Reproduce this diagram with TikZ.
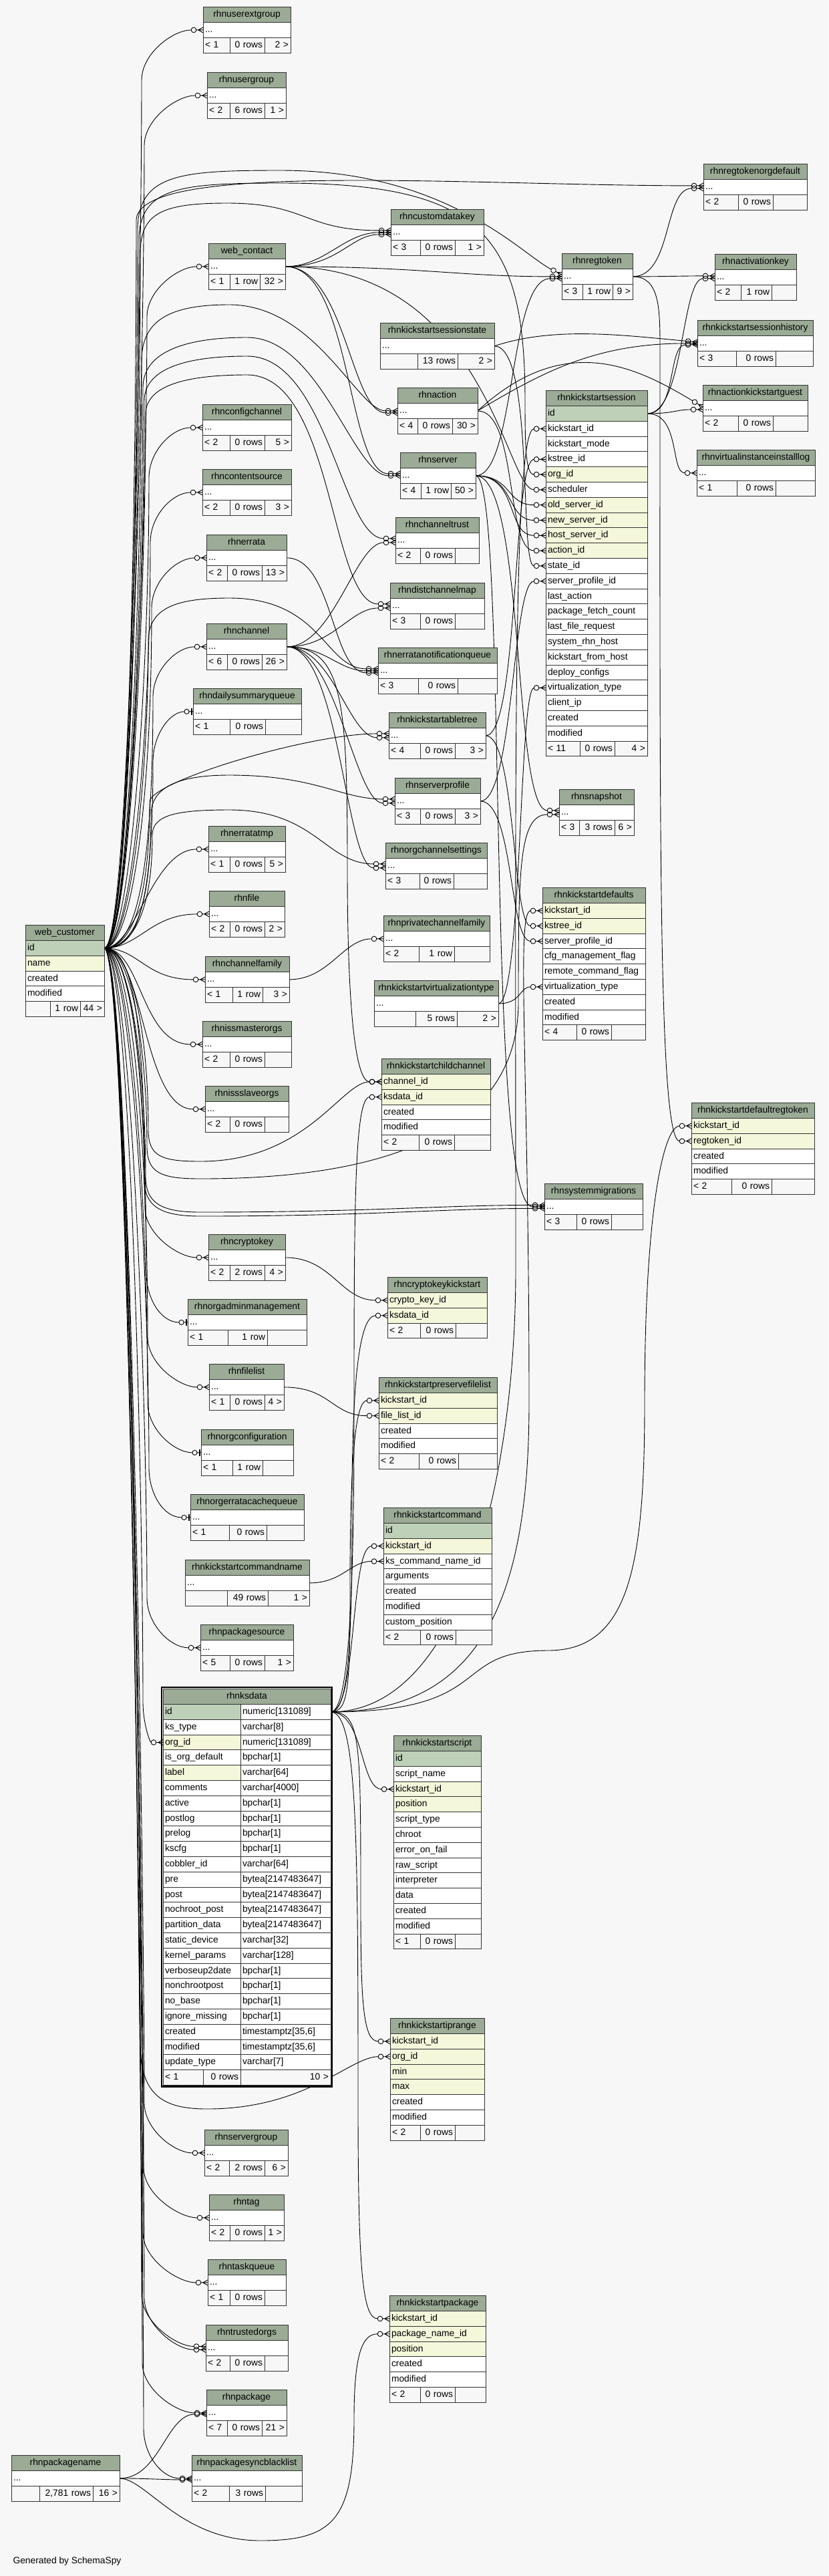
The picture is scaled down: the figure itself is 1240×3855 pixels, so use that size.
\documentclass[tikz,border=0pt]{standalone}
\usepackage{fontspec}
\setmainfont{Liberation Sans}
\usepackage{tikz}
\usetikzlibrary{calc,positioning,arrows.meta}
\definecolor{bgc}{HTML}{F7F7F7}
\definecolor{hdrc}{HTML}{9BAB96}
\definecolor{pkc}{HTML}{BED1B8}
\definecolor{idxc}{HTML}{F4F7DA}
\pgfdeclarelayer{edges}
\pgfsetlayers{edges,main}

% crow's foot with open circle (zero or many)
\pgfdeclarearrow{
  name = Crow,
  setup code = {
    \pgfarrowssettipend{0pt}
    \pgfarrowssetlineend{-17.6pt}
    \pgfarrowssetbackend{-18.2pt}
    \pgfarrowssetvisualbackend{-18.2pt}
    \pgfarrowsupperhullpoint{0pt}{4.2pt}
    \pgfarrowsupperhullpoint{-18.2pt}{4pt}
  },
  drawing code = {
    \pgfpathcircle{\pgfqpoint{-14pt}{0pt}}{3.8pt}
    \pgfpathmoveto{\pgfqpoint{-10.2pt}{0pt}}
    \pgfpathlineto{\pgfqpoint{0pt}{0pt}}
    \pgfpathmoveto{\pgfqpoint{0pt}{4pt}}
    \pgfpathlineto{\pgfqpoint{-7.2pt}{0pt}}
    \pgfpathlineto{\pgfqpoint{0pt}{-4pt}}
    \pgfusepathqstroke
  }
}
% open circle and bar (zero or one)
\pgfdeclarearrow{
  name = CrowOne,
  setup code = {
    \pgfarrowssettipend{0pt}
    \pgfarrowssetlineend{-13pt}
    \pgfarrowssetbackend{-13.6pt}
    \pgfarrowssetvisualbackend{-13.6pt}
    \pgfarrowsupperhullpoint{0pt}{4.6pt}
    \pgfarrowsupperhullpoint{-13.6pt}{3.8pt}
  },
  drawing code = {
    \pgfpathcircle{\pgfqpoint{-9.5pt}{0pt}}{3.6pt}
    \pgfpathmoveto{\pgfqpoint{-5.9pt}{0pt}}
    \pgfpathlineto{\pgfqpoint{0pt}{0pt}}
    \pgfusepathqstroke
    \pgfpathrectanglecorners{\pgfqpoint{-3.4pt}{-4.6pt}}{\pgfqpoint{-1.2pt}{4.6pt}}
    \pgfusepathqfill
  }
}

\tikzset{
  cell/.style={draw=black!80, line width=0.9pt, anchor=north west, inner xsep=3pt, inner ysep=0pt,
    outer sep=0pt, minimum height=22.8pt, text height=10pt, text depth=3pt,
    font=\fontsize{13.8}{16}\selectfont},
  thead/.style={cell, fill=hdrc, minimum height=23.5pt, align=center, inner xsep=0pt},
  trow/.style={cell, fill=white, align=left},
  tfoot/.style={cell, fill=bgc, align=left},
  conn/.style={line width=0.9pt, black},
  fk/.style={conn, -{Crow}},
  fkone/.style={conn, -{CrowOne}}
}

% table pieces: title, title with "..." row, column rows, footer
\newcommand{\dbtitle}[5]{\node[thead, minimum width=#5pt] (#1) at (#3,#4) {#2};}
\newcommand{\dbhead}[5]{\dbtitle{#1}{#2}{#3}{#4}{#5}%
  \pgfmathsetmacro\tw{#5-6}%
  \node[trow, text width=\tw pt] (#1-r) at (#1.south west) {...};}
\newcommand{\dbrows}[3]{\pgfmathsetmacro\tw{#2-6}%
  \foreach \lbl/\clr [count=\i] in {#3}
    \node[trow, fill=\clr, text width=\tw pt] (#1-\i) at ($(#1.south west)+(0,{(\i-1)*22.8})$) {\lbl};}
\newcommand{\dbfoot}[7]{\pgfmathsetmacro\wa{#3-6}\pgfmathsetmacro\wb{#4-#3-6}\pgfmathsetmacro\wc{#2-#4-6}%
  \node[tfoot, text width=\wa pt] (#1-fa) at (#1.south west) {#5};
  \node[tfoot, text width=\wb pt, align=right] (#1-fb) at (#1-fa.north east) {#6};
  \node[tfoot, text width=\wc pt, align=right] (#1-fc) at (#1-fb.north east) {#7};}

\begin{document}
\begin{tikzpicture}[x=1pt, y=-1pt]
  \begin{pgfonlayer}{edges}
    \fill[bgc] (0,0) rectangle (1240,3855);
  \end{pgfonlayer}
  \useasboundingbox (0,0) rectangle (1240,3855);

  % left column
  \dbhead{ueg}{rhnuserextgroup}{304}{10}{131}\dbfoot{ueg-r}{131}{40}{92}{< 1}{0 rows}{2 >}
  \dbhead{ug}{rhnusergroup}{310}{108}{118}\dbfoot{ug-r}{118}{34}{86}{< 2}{6 rows}{1 >}
  \dbhead{wct}{web\_contact}{312}{364}{115}\dbfoot{wct-r}{115}{32}{77}{< 1}{1 row}{32 >}
  \dbhead{cfgch}{rhnconfigchannel}{303}{605}{133}\dbfoot{cfgch-r}{133}{41}{93}{< 2}{0 rows}{5 >}
  \dbhead{csrc}{rhncontentsource}{303}{702}{133}\dbfoot{csrc-r}{133}{41}{93}{< 2}{0 rows}{3 >}
  \dbhead{err}{rhnerrata}{309}{800}{120}\dbfoot{err-r}{120}{31}{83}{< 2}{0 rows}{13 >}
  \dbhead{chan}{rhnchannel}{309}{933}{120}\dbfoot{chan-r}{120}{31}{83}{< 6}{0 rows}{26 >}
  \dbhead{dsq}{rhndailysummaryqueue}{289}{1030}{162}\dbfoot{dsq-r}{162}{55}{108}{< 1}{0 rows}{}
  \dbhead{errtmp}{rhnerratatmp}{312}{1236}{115}\dbfoot{errtmp-r}{115}{32}{84}{< 1}{0 rows}{5 >}
  \dbhead{file}{rhnfile}{313}{1333}{113}\dbfoot{file-r}{113}{31}{83}{< 2}{0 rows}{2 >}
  \dbhead{chfam}{rhnchannelfamily}{307}{1431}{126}\dbfoot{chfam-r}{126}{41}{86}{< 1}{1 row}{3 >}
  \dbhead{issm}{rhnissmasterorgs}{303}{1528}{133}\dbfoot{issm-r}{133}{41}{93}{< 2}{0 rows}{}
  \dbhead{isss}{rhnissslaveorgs}{307}{1625}{125}\dbfoot{isss-r}{125}{37}{89}{< 2}{0 rows}{}
  \dbhead{crypto}{rhncryptokey}{312}{1847}{115}\dbfoot{crypto-r}{115}{32}{84}{< 2}{2 rows}{4 >}
  \dbhead{oam}{rhnorgadminmanagement}{281}{1944}{178}\dbfoot{oam-r}{178}{60}{119}{< 1}{1 row}{}
  \dbhead{flist}{rhnfilelist}{313}{2041}{112}\dbfoot{flist-r}{112}{31}{83}{< 1}{0 rows}{4 >}
  \dbhead{ocfg}{rhnorgconfiguration}{301}{2139}{138}\dbfoot{ocfg-r}{138}{47}{92}{< 1}{1 row}{}
  \dbhead{oecq}{rhnorgerratacachequeue}{285}{2236}{170}\dbfoot{oecq-r}{170}{58}{114}{< 1}{0 rows}{}
  \dbhead{kscn}{rhnkickstartcommandname}{277}{2334}{186}\dbfoot{kscn-r}{186}{63}{124}{}{49 rows}{1 >}
  \dbhead{pkgsrc}{rhnpackagesource}{300}{2431}{139}\dbfoot{pkgsrc-r}{139}{44}{96}{< 5}{0 rows}{1 >}
  \dbhead{sgrp}{rhnservergroup}{306}{3187}{125}\dbfoot{sgrp-r}{125}{37}{90}{< 2}{2 rows}{6 >}
  \dbhead{tag}{rhntag}{313}{3284}{112}\dbfoot{tag-r}{112}{31}{83}{< 2}{0 rows}{1 >}
  \dbhead{taskq}{rhntaskqueue}{311}{3381}{117}\dbfoot{taskq-r}{117}{33}{85}{< 1}{0 rows}{}
  \dbhead{trust}{rhntrustedorgs}{308}{3479}{123}\dbfoot{trust-r}{123}{36}{88}{< 2}{0 rows}{}
  \dbhead{pkg}{rhnpackage}{309}{3576}{120}\dbfoot{pkg-r}{120}{31}{83}{< 7}{0 rows}{21 >}
  \dbhead{pkgsbl}{rhnpackagesyncblacklist}{287}{3674}{165}\dbfoot{pkgsbl-r}{165}{56}{110}{< 2}{3 rows}{}
  \dbhead{pkgname}{rhnpackagename}{17}{3674}{162}\dbfoot{pkgname-r}{162}{42}{122}{}{2,781 rows}{16 >}

  \dbtitle{wcust}{web\_customer}{38}{1384}{118}
  \dbrows{wcust}{118}{id/pkc, name/idxc, created/white, modified/white}
  \dbfoot{wcust-4}{118}{37}{82}{}{1 row}{44 >}

  % middle column
  \dbhead{cdk}{rhncustomdatakey}{585}{313}{139}\dbfoot{cdk-r}{139}{44}{96}{< 3}{0 rows}{1 >}
  \dbhead{ksst}{rhnkickstartsessionstate}{569}{483}{171}\dbfoot{ksst-r}{171}{56}{116}{}{13 rows}{2 >}
  \dbhead{act}{rhnaction}{595}{580}{120}\dbfoot{act-r}{120}{30}{82}{< 4}{0 rows}{30 >}
  \dbhead{srv}{rhnserver}{599}{677}{113}\dbfoot{srv-r}{113}{31}{76}{< 4}{1 row}{50 >}
  \dbhead{chtrust}{rhnchanneltrust}{592}{774}{125}\dbfoot{chtrust-r}{125}{37}{89}{< 2}{0 rows}{}
  \dbhead{dcm}{rhndistchannelmap}{584}{872}{141}\dbfoot{dcm-r}{141}{45}{97}{< 3}{0 rows}{}
  \dbhead{enq}{rhnerratanotificationqueue}{566}{969}{178}\dbfoot{enq-r}{178}{60}{119}{< 3}{0 rows}{}
  \dbhead{kstree}{rhnkickstartabletree}{582}{1066}{145}\dbfoot{kstree-r}{145}{47}{99}{< 4}{0 rows}{3 >}
  \dbhead{sprof}{rhnserverprofile}{591}{1164}{128}\dbfoot{sprof-r}{128}{38}{90}{< 3}{0 rows}{3 >}
  \dbhead{ocs}{rhnorgchannelsettings}{577}{1261}{152}\dbfoot{ocs-r}{152}{51}{102}{< 3}{0 rows}{}
  \dbhead{pcf}{rhnprivatechannelfamily}{574}{1370}{159}\dbfoot{pcf-r}{159}{53}{106}{< 2}{1 row}{}
  \dbhead{ksvt}{rhnkickstartvirtualizationtype}{560}{1467}{186}\dbfoot{ksvt-r}{186}{62}{124}{}{5 rows}{2 >}

  \dbtitle{kscc}{rhnkickstartchildchannel}{571}{1584}{163}
  \dbrows{kscc}{163}{channel\_id/idxc, ksdata\_id/idxc, created/white, modified/white}
  \dbfoot{kscc-4}{163}{56}{109}{< 2}{0 rows}{}
  \dbtitle{ckk}{rhncryptokeykickstart}{580}{1911}{149}
  \dbrows{ckk}{149}{crypto\_key\_id/idxc, ksdata\_id/idxc}
  \dbfoot{ckk-2}{149}{49}{102}{< 2}{0 rows}{}
  \dbtitle{kspfl}{rhnkickstartpreservefilelist}{567}{2061}{177}
  \dbrows{kspfl}{177}{kickstart\_id/idxc, file\_list\_id/idxc, created/white, modified/white}
  \dbfoot{kspfl-4}{177}{60}{119}{< 2}{0 rows}{}
  \dbtitle{kscmd}{rhnkickstartcommand}{574}{2256}{162}
  \dbrows{kscmd}{162}{id/pkc, kickstart\_id/idxc, ks\_command\_name\_id/white, arguments/white,
    created/white, modified/white, custom\_position/white}
  \dbfoot{kscmd-7}{162}{55}{108}{< 2}{0 rows}{}
  \dbtitle{kssc}{rhnkickstartscript}{589}{2597}{131}
  \dbrows{kssc}{131}{id/pkc, script\_name/white, kickstart\_id/idxc, position/idxc, script\_type/white,
    chroot/white, error\_on\_fail/white, raw\_script/white, interpreter/white, data/white,
    created/white, modified/white}
  \dbfoot{kssc-12}{131}{40}{92}{< 1}{0 rows}{}
  \dbtitle{ksipr}{rhnkickstartiprange}{584}{3020}{141}
  \dbrows{ksipr}{141}{kickstart\_id/idxc, org\_id/idxc, min/idxc, max/idxc, created/white, modified/white}
  \dbfoot{ksipr-6}{141}{45}{97}{< 2}{0 rows}{}
  \dbtitle{kspkg}{rhnkickstartpackage}{583}{3435}{144}
  \dbrows{kspkg}{144}{kickstart\_id/idxc, package\_name\_id/idxc, position/idxc, created/white, modified/white}
  \dbfoot{kspkg-5}{144}{46}{98}{< 2}{0 rows}{}

  % right columns
  \dbhead{regtok}{rhnregtoken}{841}{379}{106}\dbfoot{regtok-r}{106}{31}{76}{< 3}{1 row}{9 >}
  \dbhead{snap}{rhnsnapshot}{837}{1181}{112}\dbfoot{snap-r}{112}{30}{83}{< 3}{3 rows}{6 >}
  \dbhead{sysmig}{rhnsystemmigrations}{815}{1771}{147}\dbfoot{sysmig-r}{147}{48}{100}{< 3}{0 rows}{}
  \dbhead{rtod}{rhnregtokenorgdefault}{1053}{245}{155}\dbfoot{rtod-r}{155}{52}{104}{< 2}{0 rows}{}
  \dbhead{akey}{rhnactivationkey}{1070}{380}{122}\dbfoot{akey-r}{122}{39}{85}{< 2}{1 row}{}
  \dbhead{kshist}{rhnkickstartsessionhistory}{1044}{479}{173}\dbfoot{kshist-r}{173}{58}{117}{< 3}{0 rows}{}
  \dbhead{akg}{rhnactionkickstartguest}{1052}{576}{157}\dbfoot{akg-r}{157}{53}{105}{< 2}{0 rows}{}
  \dbhead{viil}{rhnvirtualinstanceinstalllog}{1043}{673}{177}\dbfoot{viil-r}{177}{60}{118}{< 1}{0 rows}{}

  \dbtitle{kss}{rhnkickstartsession}{817}{584}{152}
  \dbrows{kss}{152}{id/pkc, kickstart\_id/white, kickstart\_mode/white, kstree\_id/white, org\_id/idxc,
    scheduler/white, old\_server\_id/idxc, new\_server\_id/idxc, host\_server\_id/idxc, action\_id/idxc,
    state\_id/white, server\_profile\_id/white, last\_action/white, package\_fetch\_count/white,
    last\_file\_request/white, system\_rhn\_host/white, kickstart\_from\_host/white, deploy\_configs/white,
    virtualization\_type/white, client\_ip/white, created/white, modified/white}
  \dbfoot{kss-22}{152}{51}{103}{< 11}{0 rows}{4 >}
  \dbtitle{ksdef}{rhnkickstartdefaults}{812}{1328}{154}
  \dbrows{ksdef}{154}{kickstart\_id/idxc, kstree\_id/idxc, server\_profile\_id/white, cfg\_management\_flag/white,
    remote\_command\_flag/white, virtualization\_type/white, created/white, modified/white}
  \dbfoot{ksdef-8}{154}{51}{103}{< 4}{0 rows}{}
  \dbtitle{ksdrt}{rhnkickstartdefaultregtoken}{1035}{1650}{184}
  \dbrows{ksdrt}{184}{kickstart\_id/idxc, regtoken\_id/idxc, created/white, modified/white}
  \dbfoot{ksdrt-4}{184}{60}{120}{< 2}{0 rows}{}

  % rhnksdata, the focus table
  \dbtitle{ksdata}{rhnksdata}{244}{2527}{251}
  \foreach \cn/\ct/\clr [count=\i] in {id/numeric[131089]/pkc, ks\_type/varchar[8]/white,
      org\_id/numeric[131089]/idxc, is\_org\_default/bpchar[1]/white, label/varchar[64]/idxc,
      comments/varchar[4000]/white, active/bpchar[1]/white, postlog/bpchar[1]/white,
      prelog/bpchar[1]/white, kscfg/bpchar[1]/white, cobbler\_id/varchar[64]/white,
      pre/bytea[2147483647]/white, post/bytea[2147483647]/white, nochroot\_post/bytea[2147483647]/white,
      partition\_data/bytea[2147483647]/white, static\_device/varchar[32]/white,
      kernel\_params/varchar[128]/white, verboseup2date/bpchar[1]/white, nonchrootpost/bpchar[1]/white,
      no\_base/bpchar[1]/white, ignore\_missing/bpchar[1]/white, created/{timestamptz[35,6]}/white,
      modified/{timestamptz[35,6]}/white, update\_type/varchar[7]/white} {
    \node[trow, fill=\clr, text width=110pt] (ksdata-\i) at ($(ksdata.south west)+(0,{(\i-1)*22.8})$) {\cn};
    \node[trow, text width=129pt] (ksdata-\i-t) at (ksdata-\i.north east) {\ct};
  }
  \dbfoot{ksdata-24}{251}{60}{116}{< 1}{0 rows}{10 >}
  \draw[line width=2.6pt] ($(ksdata.north west)+(-2,-2)$) rectangle ($(ksdata-24-fc.south east)+(2,2)$);

  \node[anchor=west, font=\fontsize{13.8}{16}\selectfont] (gen) at (16,3833) {Generated by SchemaSpy};

  \begin{pgfonlayer}{edges}
    % web_customer: bundle up to the tables above it
    \foreach \t/\d in {ueg/92, ug/94, wct/92, cfgch/80, csrc/78, err/82, chan/80}
      \draw[fk] (wcust-1.east) .. controls +(40,0) and +(0,300) .. ($(\t-r.west)+(-\d,75)$)
        .. controls +(0,-40) and +(-45,0) .. (\t-r.west);
    \draw[fkone] (wcust-1.east) .. controls +(40,0) and +(0,250) .. ($(dsq-r.west)+(-60,75)$)
        .. controls +(0,-40) and +(-35,0) .. (dsq-r.west);
    % web_customer: tables next to it
    \foreach \t/\a/\b in {errtmp/48/84, file/52/88, chfam/52/90, issm/56/92, isss/60/94}
      \draw[fk] (wcust-1.east) .. controls +(\a,0) and +(-\b,0) .. (\t-r.west);
    % web_customer: bundle down to the tables below it
    \foreach \t/\d in {crypto/95, flist/92, pkgsrc/80, sgrp/90, tag/98, taskq/97, pkg/96, pkgsbl/72}
      \draw[fk] (wcust-1.east) .. controls +(40,0) and +(0,-300) .. ($(\t-r.west)+(-\d,-75)$)
        .. controls +(0,40) and +(-45,0) .. (\t-r.west);
    \foreach \t/\d in {oam/62, ocfg/80, oecq/62}
      \draw[fkone] (wcust-1.east) .. controls +(40,0) and +(0,-300) .. ($(\t-r.west)+(-\d,-75)$)
        .. controls +(0,40) and +(-40,0) .. (\t-r.west);
    \draw[fk] (wcust-1.east) .. controls +(40,0) and +(0,-300) .. ($(ksdata-3.west)+(-30,-60)$)
        .. controls +(0,30) and +(-20,0) .. (ksdata-3.west);
    \draw[fk] (wcust-1.east) .. controls +(40,0) and +(0,-300) .. ($(trust-r.west)+(-96,-80)$)
        .. controls +(0,40) and +(-45,0) .. ($(trust-r.west)+(0,-2.5)$);
    \draw[fk] (wcust-1.east) .. controls +(40,0) and +(0,-300) .. ($(trust-r.west)+(-92,-75)$)
        .. controls +(0,40) and +(-45,0) .. ($(trust-r.west)+(0,2.5)$);

    % web_customer, long routes
    \draw[fk] (wcust-1.east) .. controls +(40,0) and +(0,300) .. (204,330)
      .. controls +(0,-90) and +(-350,0) .. ($(rtod-r.west)+(0,-2)$);
    \draw[fk] (wcust-1.east) .. controls +(40,0) and +(0,300) .. (206,345)
      .. controls +(0,-85) and +(-150,0) .. (420,255) .. controls +(250,0) and +(-60,-30) .. ($(regtok-r.west)+(0,-3)$);
    \draw[fk] (wcust-1.east) .. controls +(40,0) and +(0,300) .. (208,360)
      .. controls +(0,-80) and +(-150,0) .. (420,274) .. controls +(300,0) and +(0,-250) .. (786,600)
      .. controls +(0,70) and +(-30,0) .. (kss-5.west);
    \draw[fk] (wcust-1.east) .. controls +(40,0) and +(0,300) .. (210,380)
      .. controls +(0,-60) and +(-100,0) .. (340,304) .. controls +(120,0) and +(-130,0) .. ($(cdk-r.west)+(0,-3)$);
    \draw[fk] (wcust-1.east) .. controls +(40,0) and +(0,250) .. (212,540)
      .. controls +(0,-60) and +(-90,0) .. (343,456) .. controls +(130,0) and +(-60,0) .. (act-r.west);
    \draw[fk] (wcust-1.east) .. controls +(40,0) and +(0,250) .. (214,580)
      .. controls +(0,-50) and +(-100,0) .. (370,505) .. controls +(110,0) and +(-70,0) .. (srv-r.west);
    \draw[fk] (wcust-1.east) .. controls +(40,0) and +(0,250) .. (216,600)
      .. controls +(0,-45) and +(-100,0) .. (370,533) .. controls +(120,0) and +(-80,0) .. ($(chtrust-r.west)+(0,-3)$);
    \draw[fk] (wcust-1.east) .. controls +(40,0) and +(0,250) .. (218,620)
      .. controls +(0,-40) and +(-100,0) .. (370,561) .. controls +(130,0) and +(-90,0) .. ($(dcm-r.west)+(0,-3)$);
    \draw[fk] (wcust-1.east) .. controls +(40,0) and +(0,200) .. (222,960)
      .. controls +(0,-50) and +(-80,0) .. (343,895) .. controls +(140,0) and +(-80,0) .. ($(enq-r.west)+(0,-3)$);
    \draw[fk] (wcust-1.east) .. controls +(40,0) and +(0,150) .. (224,1200)
      .. controls +(0,-30) and +(-120,0) .. ($(kstree-r.west)+(0,-3)$);
    \draw[fk] (wcust-1.east) .. controls +(40,0) and +(0,150) .. (226,1220)
      .. controls +(0,-40) and +(-80,0) .. (343,1160) .. controls +(130,0) and +(-80,0) .. ($(sprof-r.west)+(0,-3)$);
    \draw[fk] (wcust-1.east) .. controls +(40,0) and +(0,120) .. (228,1250)
      .. controls +(0,-30) and +(-80,0) .. (343,1212) .. controls +(130,0) and +(-90,0) .. ($(ocs-r.west)+(0,-3)$);
    \draw[fk] (wcust-1.east) .. controls +(40,0) and +(0,-150) .. (222,1690)
      .. controls +(0,40) and +(-60,0) .. (300,1738) .. controls +(160,0) and +(-60,0) .. (kscc-1.west);
    \draw[fk] (wcust-1.east) .. controls +(40,0) and +(0,-150) .. (220,1715)
      .. controls +(0,40) and +(-60,0) .. (300,1764) .. controls +(400,0) and +(0,120) .. (776,1500)
      .. controls +(0,-200) and +(-60,0) .. ($(snap-r.west)+(0,3)$);
    \draw[fk] (wcust-1.east) .. controls +(40,0) and +(0,-150) .. (218,1760)
      .. controls +(0,40) and +(-60,0) .. (300,1814) .. controls +(250,0) and +(-150,0) .. ($(sysmig-r.west)+(0,-2.5)$);
    \draw[fk] (wcust-1.east) .. controls +(40,0) and +(0,-150) .. (216,1765)
      .. controls +(0,40) and +(-60,0) .. (300,1820) .. controls +(250,0) and +(-150,0) .. ($(sysmig-r.west)+(0,2.5)$);
    \draw[fk] (wcust-1.east) .. controls +(40,0) and +(0,-300) .. (210,3060)
      .. controls +(0,80) and +(-60,0) .. (310,3156) .. controls +(150,0) and +(-60,0) .. (ksipr-2.west);

    % web_contact
    \draw[fk] (wct-r.east) .. controls +(60,0) and +(-70,0) .. (cdk-r.west);
    \draw[fk] (wct-r.east) .. controls +(80,0) and +(-60,0) .. ($(cdk-r.west)+(0,3)$);
    \draw[fk] (wct-r.east) .. controls +(200,0) and +(-150,0) .. (regtok-r.west);
    \draw[fk] (wct-r.east) .. controls +(90,0) and +(-70,0) .. ($(act-r.west)+(0,3)$);
    \draw[fk] (wct-r.east) .. controls +(100,0) and +(-80,0) .. ($(srv-r.west)+(0,-3)$);
    \draw[fk] (wct-r.east) .. controls +(300,0) and +(-60,0) .. (kss-6.west);

    % rhnregtoken
    \draw[fk] (regtok-r.east) .. controls +(60,0) and +(-60,0) .. ($(rtod-r.west)+(0,2)$);
    \draw[fk] (regtok-r.east) .. controls +(50,0) and +(-50,0) .. ($(akey-r.west)+(0,-2)$);
    \draw[fk] (regtok-r.east) .. controls +(40,0) and +(0,-60) .. (988,520)
      .. controls +(0,700) and +(-50,0) .. (ksdrt-2.west);

    % session state, action, session
    \draw[fk] (ksst-r.east) .. controls +(90,-30) and +(-110,-10) .. ($(kshist-r.west)+(0,-2)$);
    \draw[fk] (ksst-r.east) .. controls +(60,0) and +(-40,0) .. (kss-11.west);
    \draw[fk] (act-r.east) .. controls +(100,-60) and +(-150,0) .. (kshist-r.west);
    \draw[fk] (act-r.east) .. controls +(130,-120) and +(-100,-60) .. ($(akg-r.west)+(0,-2)$);
    \draw[fk] (act-r.east) .. controls +(60,0) and +(-60,0) .. (kss-10.west);
    \draw[fk] (kss-1.east) .. controls +(45,0) and +(-45,0) .. ($(kshist-r.west)+(0,2)$);
    \draw[fk] (kss-1.east) .. controls +(55,0) and +(-50,0) .. ($(akey-r.west)+(0,2)$);
    \draw[fk] (kss-1.east) .. controls +(40,0) and +(-40,0) .. ($(akg-r.west)+(0,2)$);
    \draw[fk] (kss-1.east) .. controls +(50,0) and +(-40,0) .. (viil-r.west);

    % rhnserver
    \draw[fk] (srv-r.east) .. controls +(60,0) and +(-80,0) .. ($(regtok-r.west)+(0,3)$);
    \draw[fk] (srv-r.east) .. controls +(55,0) and +(-60,0) .. (kss-7.west);
    \draw[fk] (srv-r.east) .. controls +(60,0) and +(-60,0) .. (kss-8.west);
    \draw[fk] (srv-r.east) .. controls +(65,0) and +(-60,0) .. (kss-9.west);
    \draw[fk] (srv-r.east) .. controls +(75,0) and +(-70,0) .. ($(snap-r.west)+(0,-3)$);
    \draw[fk] (srv-r.east) .. controls +(50,0) and +(-90,0) .. (sysmig-r.west);

    % rhnchannel and rhnerrata
    \draw[fk] (chan-r.east) .. controls +(70,0) and +(-60,0) .. ($(chtrust-r.west)+(0,3)$);
    \draw[fk] (chan-r.east) .. controls +(70,0) and +(-60,0) .. ($(dcm-r.west)+(0,3)$);
    \draw[fk] (chan-r.east) .. controls +(60,0) and +(-60,0) .. (enq-r.west);
    \draw[fk] (chan-r.east) .. controls +(70,0) and +(-60,0) .. ($(kstree-r.west)+(0,3)$);
    \draw[fk] (chan-r.east) .. controls +(75,0) and +(-60,0) .. ($(sprof-r.west)+(0,3)$);
    \draw[fk] (chan-r.east) .. controls +(80,0) and +(-60,0) .. ($(ocs-r.west)+(0,3)$);
    \draw[fk] (chan-r.east) .. controls +(85,0) and +(0,-250) .. (520,1300)
      .. controls +(0,200) and +(-40,0) .. (kscc-1.west);
    \draw[fk] (err-r.east) .. controls +(70,0) and +(-70,0) .. ($(enq-r.west)+(0,3)$);

    % single parents
    \draw[fk] (chfam-r.east) .. controls +(60,0) and +(-60,0) .. (pcf-r.west);
    \draw[fk] (crypto-r.east) .. controls +(70,0) and +(-70,0) .. (ckk-1.west);
    \draw[fk] (flist-r.east) .. controls +(70,0) and +(-70,0) .. (kspfl-2.west);
    \draw[fk] (kscn-r.east) .. controls +(50,0) and +(-50,0) .. (kscmd-3.west);
    \draw[fk] (kstree-r.east) .. controls +(50,0) and +(-50,0) .. (kss-4.west);
    \draw[fk] (kstree-r.east) .. controls +(45,0) and +(-45,0) .. (ksdef-2.west);
    \draw[fk] (sprof-r.east) .. controls +(50,0) and +(-50,0) .. (kss-12.west);
    \draw[fk] (sprof-r.east) .. controls +(50,0) and +(-50,0) .. (ksdef-3.west);
    \draw[fk] (ksvt-r.east) .. controls +(35,0) and +(-40,0) .. (kss-19.west);
    \draw[fk] (ksvt-r.east) .. controls +(35,0) and +(-35,0) .. (ksdef-6.west);

    % rhnksdata children
    \draw[fk] (ksdata-1-t.east) .. controls +(200,0) and +(0,300) .. (772,1900)
      .. controls +(0,-700) and +(-50,0) .. (kss-2.west);
    \draw[fk] (ksdata-1-t.east) .. controls +(220,0) and +(0,300) .. (792,2100)
      .. controls +(0,-500) and +(-40,0) .. (ksdef-1.west);
    \draw[fk] (ksdata-1-t.east) .. controls +(30,0) and +(0,250) .. (530,2100)
      .. controls +(0,-300) and +(-40,0) .. (kscc-2.west);
    \draw[fk] (ksdata-1-t.east) .. controls +(28,0) and +(0,200) .. (527,2250)
      .. controls +(0,-200) and +(-40,0) .. (ckk-2.west);
    \draw[fk] (ksdata-1-t.east) .. controls +(26,0) and +(0,150) .. (524,2380)
      .. controls +(0,-200) and +(-35,0) .. (kspfl-1.west);
    \draw[fk] (ksdata-1-t.east) .. controls +(40,0) and +(-50,0) .. (kscmd-2.west);
    \draw[fk] (ksdata-1-t.east) .. controls +(50,0) and +(-50,0) .. (kssc-3.west);
    \draw[fk] (ksdata-1-t.east) .. controls +(45,0) and +(0,-250) .. (540,2850)
      .. controls +(0,150) and +(-40,0) .. (ksipr-1.west);
    \draw[fk] (ksdata-1-t.east) .. controls +(40,0) and +(0,-400) .. (536,3150)
      .. controls +(0,250) and +(-40,0) .. (kspkg-1.west);
    \draw[fk] (ksdata-1-t.east) .. controls +(250,0) and +(-150,0) .. (820,2470)
      .. controls +(120,0) and +(0,250) .. (965,2100) .. controls +(0,-300) and +(-40,0) .. (ksdrt-1.west);

    % rhnpackagename
    \draw[fk] (pkgname-r.east) .. controls +(60,0) and +(-60,0) .. ($(pkg-r.west)+(0,2)$);
    \draw[fk] (pkgname-r.east) .. controls +(40,0) and +(-40,0) .. ($(pkgsbl-r.west)+(0,2)$);
    \draw[fk] (pkgname-r.east) .. controls +(40,0) and +(-120,0) .. (390,3802)
      .. controls +(110,0) and +(0,150) .. (530,3620) .. controls +(0,-100) and +(-40,0) .. (kspkg-2.west);
  \end{pgfonlayer}
\end{tikzpicture}
\end{document}
